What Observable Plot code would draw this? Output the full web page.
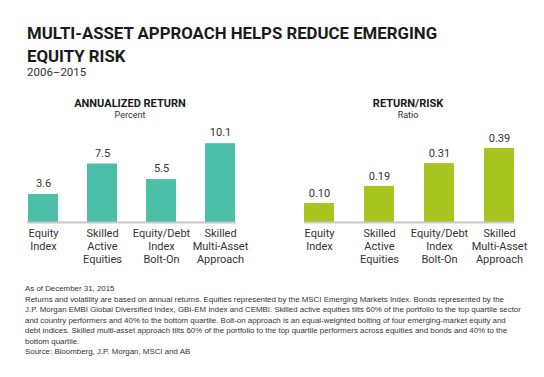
<!DOCTYPE html>
<html>
<head>
<meta charset="utf-8">
<script src="https://cdn.jsdelivr.net/npm/d3@7"></script>
<script src="https://cdn.jsdelivr.net/npm/@observablehq/plot@0.6"></script>
<style>
  body { margin: 0; background: #fff; }
  #wrap { position: relative; width: 544px; height: 377px; overflow: hidden; font-family: Roboto, "Liberation Sans", sans-serif; color: #222; }
  .abs { position: absolute; white-space: nowrap; }
  #title { left: 27px; top: 22px; font-size: 16.8px; font-weight: 700; line-height: 23px; color: #1a1a1a; }
  #subtitle { left: 27px; top: 65px; font-size: 11.5px; color: #333; }
  .ph { font-size: 11px; font-weight: 700; transform: translateX(-50%); color: #1a1a1a; }
  .pu { font-size: 9px; transform: translateX(-50%); color: #333; }
  #foot { left: 25px; top: 284px; font-family: "Liberation Sans", Arial, sans-serif; font-size: 7.9px; line-height: 10.5px; color: #333; white-space: pre; }
  .plot { position: absolute; top: 120px; }
</style>
</head>
<body>
<div id="wrap">
  <div id="title" class="abs">MULTI-ASSET APPROACH HELPS REDUCE EMERGING<br>EQUITY RISK</div>
  <div id="subtitle" class="abs">2006–2015</div>
  <div class="abs ph" style="left:130px; top:97px;">ANNUALIZED RETURN</div>
  <div class="abs pu" style="left:130px; top:110px;">Percent</div>
  <div class="abs ph" style="left:408px; top:97px;">RETURN/RISK</div>
  <div class="abs pu" style="left:408px; top:110px;">Ratio</div>
  <div id="left" class="plot" style="left:0px;"></div>
  <div id="right" class="plot" style="left:272px;"></div>
  <div id="foot" class="abs"></div>
</div>
<script>
const categories = ["Equity\nIndex", "Skilled\nActive\nEquities", "Equity/Debt\nIndex\nBolt-On", "Skilled\nMulti-Asset\nApproach"];
const annualizedReturn = [3.6, 7.5, 5.5, 10.1];
const returnRisk = [0.10, 0.19, 0.31, 0.39];
const footLines = [
  "As of December 31, 2015",
  "Returns and volatility are based on annual returns. Equities represented by the MSCI Emerging Markets Index. Bonds represented by the",
  "J.P. Morgan EMBI Global Diversified Index, GBI-EM Index and CEMBI. Skilled active equities tilts 60% of the portfolio to the top quartile sector",
  "and country performers and 40% to the bottom quartile. Bolt-on approach is an equal-weighted bolting of four emerging-market equity and",
  "debt indices. Skilled multi-asset approach tilts 60% of the portfolio to the top quartile performers across equities and bonds and 40% to the",
  "bottom quartile.",
  "Source: Bloomberg, J.P. Morgan, MSCI and AB"
];

document.getElementById("foot").textContent = footLines.join("\n");

function barChart(values, yMax, color, fmt, mLeft, mRight, dy) {
  const data = categories.map((c, i) => ({cat: c, v: values[i]}));
  return Plot.plot({
    width: 272,
    height: 150,
    marginTop: 0,
    marginBottom: 48,
    marginLeft: mLeft,
    marginRight: mRight,
    style: {fontFamily: "Roboto, 'Liberation Sans', sans-serif", fontSize: "11px", color: "#333", background: "transparent"},
    x: {domain: categories, paddingInner: 0.5, paddingOuter: 0.25, label: null},
    y: {domain: [0, yMax], axis: null},
    marks: [
      Plot.barY(data, {x: "cat", y: "v", fill: color}),
      Plot.ruleY([0], {stroke: "#c8c8c8", strokeWidth: 2, insetLeft: 15, insetRight: 15}),
      Plot.text(data, {x: "cat", y: "v", text: d => fmt(d.v), dy: dy, fill: "#333", fontSize: 11}),
      Plot.axisX({tickSize: 0, tickPadding: 6, fontSize: 11, lineHeight: 1.15, fill: "#333", label: null})
    ]
  });
}

document.getElementById("left").append(barChart(annualizedReturn, 102 / 7.8, "#4bbfa8", d3.format(".1f"), 12, 21, -11));
document.getElementById("right").append(barChart(returnRisk, 102 / 190, "#a8c41e", d3.format(".2f"), 17, 15, -10));
</script>
</body>
</html>
